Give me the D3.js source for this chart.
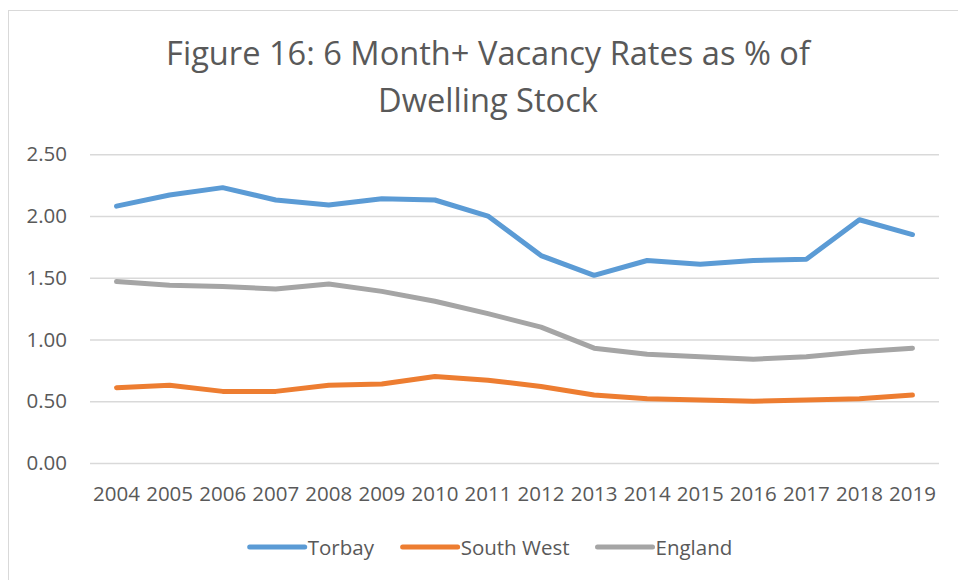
<!DOCTYPE html>
<html>
<head>
<meta charset="utf-8">
<script src="https://cdn.jsdelivr.net/npm/d3@7"></script>
<style>
  body { margin: 0; background: #fff; }
  svg { display: block; font-family: "Open Sans", sans-serif; }
</style>
</head>
<body>
<svg width="958" height="580"></svg>
<script>
// ---------- data ----------
const years = ["2004","2005","2006","2007","2008","2009","2010","2011",
               "2012","2013","2014","2015","2016","2017","2018","2019"];
const torbay    = [2.08, 2.17, 2.23, 2.13, 2.09, 2.14, 2.13, 2.00, 1.68, 1.52, 1.64, 1.61, 1.64, 1.65, 1.97, 1.85];
const southWest = [0.61, 0.63, 0.58, 0.58, 0.63, 0.64, 0.70, 0.67, 0.62, 0.55, 0.52, 0.51, 0.50, 0.51, 0.52, 0.55];
const england   = [1.47, 1.44, 1.43, 1.41, 1.45, 1.39, 1.31, 1.21, 1.10, 0.93, 0.88, 0.86, 0.84, 0.86, 0.90, 0.93];
const yTicks = [0, 0.5, 1.0, 1.5, 2.0, 2.5];
const seriesNames = ["Torbay", "South West", "England"];
const titleLines = ["Figure 16: 6 Month+ Vacancy Rates as % of", "Dwelling Stock"];

const colors = ["#5B9BD5", "#ED7D31", "#A5A5A5"];
const series = [torbay, southWest, england];

// ---------- setup ----------
let svg = d3.select("svg");
const textColor = "#595959";

// chart border (right / bottom edges fall outside the picture)
svg.append("rect")
    .attr("x", 8.5).attr("y", 10.5)
    .attr("width", 1000).attr("height", 1000)
    .attr("fill", "none")
    .attr("stroke", "#D9D9D9");

const plot = { left: 90, right: 939, top: 154.3, bottom: 463 };

let xScale = d3.scaleBand()
    .domain(years)
    .range([plot.left, plot.right]);

let yScale = d3.scaleLinear()
    .domain([0, 2.5])
    .range([plot.bottom, plot.top]);

// fit a text element to a target width by adjusting its font size
function fitText(sel, width) {
    let len = sel.node().getComputedTextLength();
    let fs = parseFloat(sel.attr("font-size"));
    sel.attr("font-size", fs * width / len);
}

// title
let t1 = svg.append("text")
    .attr("x", 488).attr("y", 65)
    .attr("text-anchor", "middle")
    .attr("fill", textColor)
    .attr("font-size", 30)
    .text(titleLines[0]);
fitText(t1, 644);
let t2 = svg.append("text")
    .attr("x", 488).attr("y", 111.5)
    .attr("text-anchor", "middle")
    .attr("fill", textColor)
    .attr("font-size", t1.attr("font-size"))
    .text(titleLines[1]);

// gridlines + y axis
let yAxis = svg.append("g")
    .attr("transform", "translate(" + plot.left + ",0)")
    .call(d3.axisLeft(yScale)
        .tickValues(yTicks)
        .tickFormat(d3.format(".2f"))
        .tickSize(-(plot.right - plot.left))
        .tickPadding(23));
yAxis.select(".domain").remove();
yAxis.selectAll(".tick line")
    .attr("stroke", "#D9D9D9")
    .attr("stroke-width", 1.5);
yAxis.selectAll(".tick text")
    .attr("fill", textColor)
    .attr("font-size", 20.5)
    .attr("font-family", "'Open Sans', sans-serif");

// x axis labels
let xAxis = svg.append("g")
    .attr("transform", "translate(0," + plot.bottom + ")")
    .call(d3.axisBottom(xScale).tickSize(0).tickPadding(23));
xAxis.select(".domain").remove();
xAxis.selectAll(".tick text")
    .attr("fill", textColor)
    .attr("font-size", 20.5)
    .attr("font-family", "'Open Sans', sans-serif");

// lines
let line = d3.line()
    .x(function(d, i) { return xScale(years[i]) + xScale.bandwidth() / 2; })
    .y(function(d) { return yScale(d); });

svg.selectAll(".series")
    .data(series)
    .enter().append("path")
    .attr("class", "series")
    .attr("d", line)
    .attr("fill", "none")
    .attr("stroke", function(d, i) { return colors[i]; })
    .attr("stroke-width", 5)
    .attr("stroke-linejoin", "round")
    .attr("stroke-linecap", "round");

// legend
const legendY = 547;
const swatch = 55, swGap = 3, itemGap = 28;
let legend = svg.append("g");
let items = legend.selectAll(".item")
    .data(seriesNames)
    .enter().append("g")
    .attr("class", "item");
items.append("line")
    .attr("x1", 0).attr("x2", swatch)
    .attr("y1", legendY).attr("y2", legendY)
    .attr("stroke", function(d, i) { return colors[i]; })
    .attr("stroke-width", 5)
    .attr("stroke-linecap", "round");
items.append("text")
    .attr("x", swatch + swGap)
    .attr("y", legendY + 8)
    .attr("fill", textColor)
    .attr("font-size", 20.5)
    .text(function(d) { return d; });

let widths = [];
items.each(function() { widths.push(this.getBBox().width); });
let total = d3.sum(widths) + itemGap * (widths.length - 1);
let xPos = 491 - total / 2;
items.attr("transform", function(d, i) {
    let tx = xPos;
    xPos += widths[i] + itemGap;
    return "translate(" + tx + ",0)";
});
</script>
</body>
</html>
